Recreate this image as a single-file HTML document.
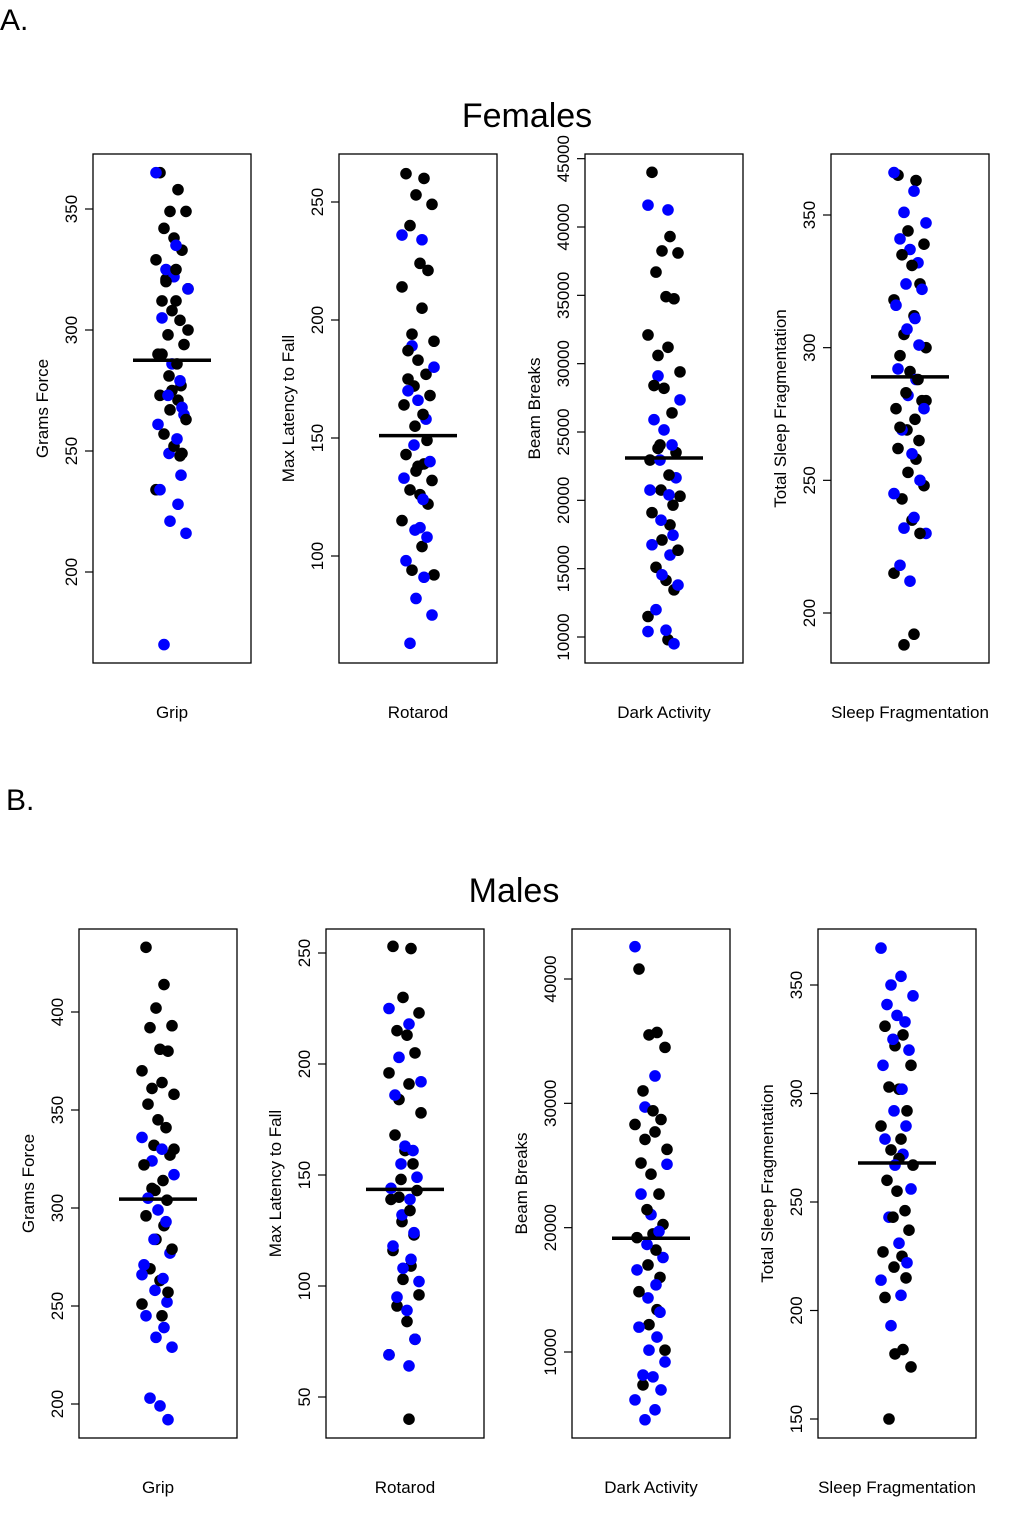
<!DOCTYPE html>
<html><head><meta charset="utf-8"><style>
body{margin:0;background:#fff}
svg text{font-family:"Liberation Sans",Arial,sans-serif;fill:#000}
</style></head><body>
<svg id="c" width="1020" height="1511" xmlns="http://www.w3.org/2000/svg">
<text x="0" y="30" font-size="30">A.</text>
<text x="527" y="127" font-size="34" text-anchor="middle">Females</text>
<text x="6" y="810" font-size="30">B.</text>
<text x="514" y="902" font-size="34" text-anchor="middle">Males</text>
</svg>
<script>
// data: values for black (strain group 1) and blue (strain group 2)
const aGripBlack=[365,358,349,349,342,338,333,329,325,321,317,312,308,304,298,294,290,286,281,277,273,271,267,263,257,252,249,234,312,320,300,290,275,248];
const aGripBlue=[365,335,325,317,305,286,279,273,265,261,255,249,240,234,228,221,216,170,322,268];
const aRotBlack=[262,260,253,249,240,224,221,214,205,194,191,187,183,177,172,168,164,160,155,149,143,139,136,132,128,126,122,115,104,94,92,175,138];
const aRotBlue=[236,234,189,180,170,166,158,147,140,133,124,111,108,98,91,82,75,63,112];
const aDarkBlack=[44000,39300,38250,38100,36700,34900,34750,32100,31200,30600,29400,28400,28200,26400,24050,23500,22950,21850,20750,19650,19100,18200,17100,16350,15100,14150,13450,11500,9800,23800,20300];
const aDarkBlue=[41600,41250,29100,27350,25900,25150,24050,22950,21650,20750,20400,18550,17450,16750,16000,14550,13800,12000,10500,9500,10400];
const aSleepBlack=[365,363,344,339,335,331,324,318,312,305,300,297,291,288,283,280,277,273,269,265,262,258,253,248,243,235,230,215,192,188,280,270];
const aSleepBlue=[366,359,351,347,341,337,332,324,322,316,311,307,301,292,288,282,277,269,260,250,245,236,232,230,218,212];
const bGripBlack=[433,414,402,393,392,381,380,370,364,361,358,353,345,341,332,327,322,314,309,304,296,291,284,279,269,263,257,251,245,310,330];
const bGripBlue=[336,330,324,317,305,299,293,284,277,271,264,258,252,245,239,234,229,203,199,192,266];
const bRotBlack=[253,252,230,223,215,213,205,196,191,184,178,168,161,155,148,143,139,134,129,123,116,109,103,96,91,84,76,69,40,140];
const bRotBlue=[225,218,203,192,186,163,161,155,149,144,139,132,124,118,112,108,102,95,89,76,69,64];
const bDarkBlack=[40800,35700,35500,34500,31000,29400,28700,28300,27700,27100,26300,25200,24300,22700,21450,20250,19200,18200,17000,16000,14850,13400,12200,10150,7350,19500];
const bDarkBlue=[42600,32200,29700,25100,22700,21050,19700,18650,17600,16600,15400,14350,13200,12000,11200,10150,9200,8150,8000,6950,6150,5350,4550];
const bSleepBlack=[331,327,322,313,303,302,292,285,279,274,267,260,255,246,243,237,227,225,220,215,206,182,180,174,150,270];
const bSleepBlue=[367,354,350,345,341,336,333,325,320,313,302,292,285,279,272,267,256,243,231,222,214,207,193];
const means=[287.5,151,23100,289,304.5,143.5,19150,268];
const jit=[-0.6,0.3,-0.1,0.7,-0.4,0.1,0.5,-0.8,0.2,-0.3,0.8,-0.5,0.0,0.4,-0.2,0.6,-0.7,0.25,-0.15,0.45];

const panels=[
 {l:93,t:154,v0:300,y0:330,v1:350,y1:209,ticks:[200,250,300,350],title:"Grams Force",x:"Grip",bk:aGripBlack,bl:aGripBlue,m:means[0]},
 {l:339,t:154,v0:150,y0:438,v1:250,y1:202,ticks:[100,150,200,250],title:"Max Latency to Fall",x:"Rotarod",bk:aRotBlack,bl:aRotBlue,m:means[1]},
 {l:585,t:154,v0:10000,y0:637,v1:40000,y1:227,ticks:[10000,15000,20000,25000,30000,35000,40000,45000],title:"Beam Breaks",x:"Dark Activity",bk:aDarkBlack,bl:aDarkBlue,m:means[2]},
 {l:831,t:154,v0:200,y0:613,v1:350,y1:215,ticks:[200,250,300,350],title:"Total Sleep Fragmentation",x:"Sleep Fragmentation",bk:aSleepBlack,bl:aSleepBlue,m:means[3]},
 {l:79,t:929,v0:200,y0:1404,v1:400,y1:1012,ticks:[200,250,300,350,400],title:"Grams Force",x:"Grip",bk:bGripBlack,bl:bGripBlue,m:means[4]},
 {l:326,t:929,v0:50,y0:1397,v1:250,y1:953,ticks:[50,100,150,200,250],title:"Max Latency to Fall",x:"Rotarod",bk:bRotBlack,bl:bRotBlue,m:means[5]},
 {l:572,t:929,v0:10000,y0:1352,v1:40000,y1:979,ticks:[10000,20000,30000,40000],title:"Beam Breaks",x:"Dark Activity",bk:bDarkBlack,bl:bDarkBlue,m:means[6]},
 {l:818,t:929,v0:150,y0:1419,v1:350,y1:985,ticks:[150,200,250,300,350],title:"Total Sleep Fragmentation",x:"Sleep Fragmentation",bk:bSleepBlack,bl:bSleepBlue,m:means[7]}
];
const svg=document.getElementById('c');
const NS='http://www.w3.org/2000/svg';
function mk(tag,attrs,parent){const e=document.createElementNS(NS,tag);for(const k in attrs)e.setAttribute(k,attrs[k]);(parent||svg).appendChild(e);return e;}
panels.forEach((p,pi)=>{
 const W=158,H=509,cx=p.l+79;
 const y=v=>p.y0+(v-p.v0)*(p.y1-p.y0)/(p.v1-p.v0);
 const g=mk('g',{});
 
 
 const r=mk('rect',{x:p.l,y:p.t,width:W,height:H,fill:'none',stroke:'#000','stroke-width':1.3},g);
 
 
 p.ticks.forEach(tv=>{
  const ty=y(tv);
  const tk=mk('line',{x1:p.l-8,x2:p.l,y1:ty,y2:ty,stroke:'#000','stroke-width':1.2},g);
  
  
  const tx=mk('text',{x:0,y:0,'font-size':17,'text-anchor':'middle',transform:`translate(${p.l-16},${ty}) rotate(-90)`},g);
  
  
  tx.textContent=tv;
 });
 const yt=mk('text',{x:0,y:0,'font-size':17,'text-anchor':'middle',transform:`translate(${p.l-45},${p.t+H/2}) rotate(-90)`},g);
 
 
 yt.textContent=p.title;
 const xl=mk('text',{x:cx,y:p.t+564,'font-size':17,'text-anchor':'middle'},g);
 
 
 xl.textContent=p.x;
 const pts=[];
 p.bk.forEach((v,i)=>pts.push([v,'#000',i]));
 p.bl.forEach((v,i)=>pts.push([v,'#0000ff',i+7]));
 pts.sort((a,b)=>(a[2]%3)-(b[2]%3));
 pts.forEach(([v,col,i])=>{
  const c=mk('circle',{cx:cx+jit[i%jit.length]*20,cy:y(v),r:5.8,fill:col},g);
  
  
 });
 const ml=mk('line',{x1:cx-39,x2:cx+39,y1:y(p.m),y2:y(p.m),stroke:'#000','stroke-width':3.5},g);
 
 
});
</script>
</body></html>
